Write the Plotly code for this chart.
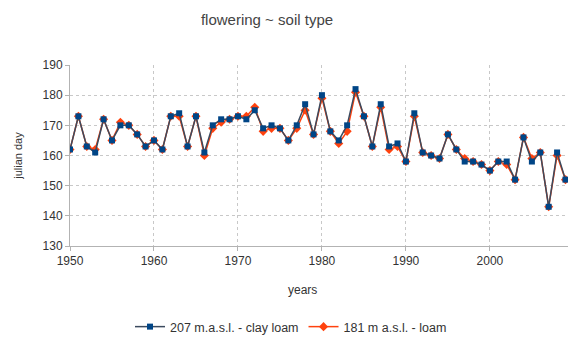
import plotly.graph_objects as go

years = list(range(1950, 2010))
clay_loam = [162, 173, 163, 161, 172, 165, 170, 170, 167, 163,
             165, 162, 173, 174, 163, 173, 161, 170, 172, 172,
             173, 172, 175, 169, 170, 169, 165, 170, 177, 167,
             180, 168, 165, 170, 182, 173, 163, 177, 163, 164,
             158, 174, 161, 160, 159, 167, 162, 158, 158, 157,
             155, 158, 158, 152, 166, 158, 161, 143, 161, 152]
loam = [162, 173, 163, 162, 172, 165, 171, 170, 167, 163,
        165, 162, 173, 173, 163, 173, 160, 169, 171, 172,
        173, 173, 176, 168, 169, 169, 165, 169, 175, 167,
        179, 168, 164, 168, 181, 173, 163, 176, 162, 163,
        158, 173, 161, 160, 159, 167, 162, 159, 158, 157,
        155, 158, 157, 152, 166, 159, 161, 143, 160, 152]

font = "Liberation Sans, Arial, sans-serif"
fig = go.Figure()
fig.add_trace(go.Scatter(x=years, y=loam, name="181 m a.s.l. - loam",
                         mode="lines+markers",
                         line=dict(color="#ff420e", width=1.5),
                         marker=dict(symbol="diamond", size=7, color="#ff420e")))
fig.add_trace(go.Scatter(x=years, y=clay_loam, name="207 m.a.s.l. - clay loam",
                         mode="lines+markers",
                         line=dict(color="#3b4a5e", width=1.5),
                         marker=dict(symbol="square", size=6, color="#004586")))

# plot area: x 70..568, y 65..246 in a 568x338 figure
fig.update_layout(
    width=568, height=338,
    margin=dict(l=70, r=0, t=65, b=92, autoexpand=False),
    paper_bgcolor="white", plot_bgcolor="white",
    font=dict(family=font, size=12, color="#333333"),
    title=dict(text="flowering ~ soil type", x=267 / 568, xanchor="center", y=1 - 20 / 338, yanchor="middle",
               font=dict(size=15, color="#444444")),
    showlegend=True,
    legend=dict(orientation="h", x=(291 - 70) / 498, xanchor="center", y=-(327 - 246) / 181, yanchor="middle",
                traceorder="reversed", font=dict(size=12.5, color="#333333")),
    xaxis=dict(range=[1950, 2009.3], tickvals=[1950, 1960, 1970, 1980, 1990, 2000],
               showgrid=True, gridcolor="#c8c8c8", griddash="dot", gridwidth=1,
               showline=True, linecolor="#b3b3b3", linewidth=1,
               ticks="outside", ticklen=4, tickcolor="#b3b3b3",
               zeroline=False),
    yaxis=dict(range=[130, 190], tickvals=[130, 140, 150, 160, 170, 180, 190],
               showgrid=True, gridcolor="#c8c8c8", griddash="dot", gridwidth=1,
               showline=True, linecolor="#b3b3b3", linewidth=1,
               ticks="outside", ticklen=4, tickcolor="#b3b3b3",
               zeroline=False,
               title=dict(text="julian day", font=dict(size=11), standoff=17)),
    annotations=[dict(text="years", xref="paper", yref="paper", x=(302 - 70) / 498, y=-(290 - 246) / 181,
                      xanchor="center", yanchor="middle", showarrow=False,
                      font=dict(size=12, color="#333333"))],
)
fig.write_html("out.html", config={"displayModeBar": False},
               post_script="document.body.style.margin='0';document.body.style.overflow='hidden';")
